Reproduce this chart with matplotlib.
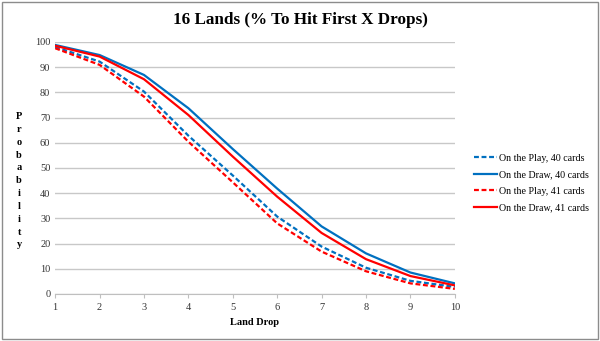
import matplotlib.pyplot as plt
from matplotlib.patches import Rectangle

plt.rcParams['font.family'] = ['Liberation Serif', 'DejaVu Serif']

drops = [1, 2, 3, 4, 5, 6, 7, 8, 9, 10]
play_40 = [98.0, 92.2, 80.3, 62.8, 47.0, 30.7, 18.8, 10.4, 5.2, 2.8]
draw_40 = [98.8, 94.8, 86.9, 73.7, 57.5, 41.8, 26.8, 16.1, 8.5, 4.2]
play_41 = [97.5, 90.9, 78.3, 60.4, 44.3, 28.0, 16.8, 9.0, 4.2, 2.0]
draw_41 = [98.5, 94.2, 85.2, 71.0, 54.5, 38.6, 24.2, 13.8, 7.1, 3.4]

blue = '#0070C0'
red = '#FF0000'

fig = plt.figure(figsize=(6, 3.41), dpi=100)
ax = fig.add_axes([0.092, 0.138, 0.666, 0.739])

ax.plot(drops, play_40, color=blue, lw=1.6, ls=(0, (2.2, 1.2)), label='On the Play, 40 cards')
ax.plot(drops, draw_40, color=blue, lw=1.6, label='On the Draw, 40 cards')
ax.plot(drops, play_41, color=red, lw=1.6, ls=(0, (2.2, 1.2)), label='On the Play, 41 cards')
ax.plot(drops, draw_41, color=red, lw=1.6, label='On the Draw, 41 cards')

ax.set_xlim(1, 10)
ax.set_ylim(0, 100)
ax.set_xticks(drops)
ax.set_yticks(range(0, 101, 10))
ax.tick_params(axis='both', labelsize=7.5, colors='#333333')
ax.tick_params(axis='y', length=0)
ax.tick_params(axis='x', length=3, color='#bfbfbf')
ax.grid(axis='y', color='#c8c8c8', lw=1)
ax.set_axisbelow(True)
for s in ['top', 'right', 'left']:
    ax.spines[s].set_visible(False)
ax.spines['bottom'].set_color('#bfbfbf')

ax.set_xlabel('Land Drop', fontsize=7.5, fontweight='bold', labelpad=4)
fig.text(0.032, 0.47, '\n'.join('Probability'), fontsize=7.5, fontweight='bold',
         ha='center', va='center', linespacing=1.55)
fig.suptitle('16 Lands (% To Hit First X Drops)', fontsize=12.3, fontweight='bold', y=0.965)

ax.legend(loc='center left', bbox_to_anchor=(0.79, 0.463), bbox_transform=fig.transFigure,
          frameon=False, fontsize=7.2, handlelength=2.3, handletextpad=0.2,
          labelspacing=0.75, borderpad=0, borderaxespad=0)

fig.add_artist(Rectangle((0.003, 0.005), 0.993, 0.99, transform=fig.transFigure,
                         fill=False, edgecolor='#8c8c8c', lw=1))

fig.savefig('out.png', dpi=100)
